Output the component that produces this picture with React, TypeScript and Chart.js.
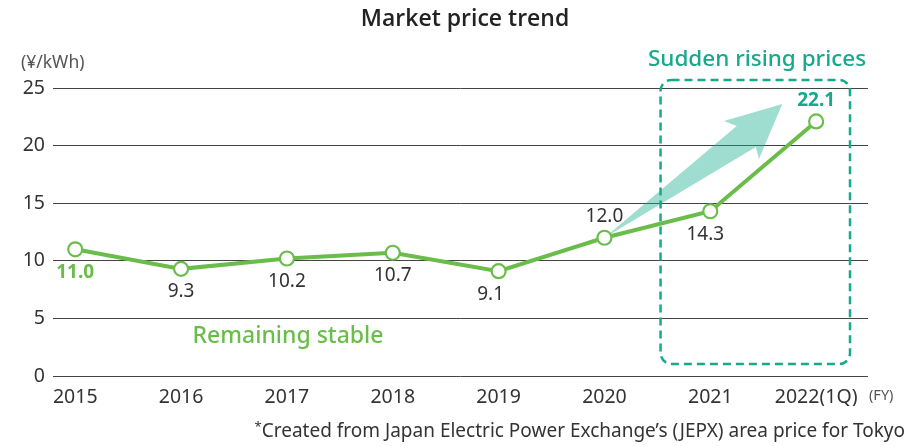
import React, { useEffect, useRef } from 'react';
import { Chart, registerables } from 'chart.js';
Chart.register(...registerables);

const categories = ['2015', '2016', '2017', '2018', '2019', '2020', '2021', '2022(1Q)'];
const prices = [11.0, 9.3, 10.2, 10.7, 9.1, 12.0, 14.3, 22.1];
const yTicks = [0, 5, 10, 15, 20, 25];
const labelBelow = [true, true, true, true, true, false, true, false];

const FONT = '"Noto Sans", "Open Sans", "DejaVu Sans", sans-serif';
const GREEN = '#6abd4a';
const TEAL = '#17a98b';
const TEXT = '#333333';

const annot = {
  id: 'annot',
  beforeDatasetsDraw(chart: any) {
    const { ctx, scales } = chart;
    const x = scales.x, y = scales.y;
    const P = (a: number, b: number) => [x.getPixelForValue(a), y.getPixelForValue(b)];
    ctx.save();
    const pts = [P(5.0, 12.0), P(6.25, 21.7), P(6.13, 22.14), P(6.68, 23.61), P(6.46, 18.84), P(6.43, 19.88)];
    ctx.beginPath();
    ctx.moveTo(pts[0][0], pts[0][1]);
    for (let i = 1; i < pts.length; i++) ctx.lineTo(pts[i][0], pts[i][1]);
    ctx.closePath();
    ctx.fillStyle = 'rgba(26,175,145,0.42)';
    ctx.fill();
    const [bx1, by1] = P(5.53, 25.7);
    const [bx2, by2] = P(7.32, 1.04);
    ctx.beginPath();
    if (ctx.roundRect) ctx.roundRect(bx1, by1, bx2 - bx1, by2 - by1, 11);
    else ctx.rect(bx1, by1, bx2 - bx1, by2 - by1);
    ctx.setLineDash([8, 5]);
    ctx.lineWidth = 2.5;
    ctx.strokeStyle = TEAL;
    ctx.stroke();
    ctx.restore();
  },
  afterDatasetsDraw(chart: any) {
    const { ctx, scales } = chart;
    const x = scales.x, y = scales.y;
    ctx.save();
    ctx.textAlign = 'center';
    ctx.textBaseline = 'middle';
    prices.forEach((v, i) => {
      const px = x.getPixelForValue(i);
      const py = y.getPixelForValue(v) + (labelBelow[i] ? 23 : -21);
      let color = TEXT;
      let weight = 'normal';
      if (i === 0) { color = GREEN; weight = 'bold'; }
      if (i === prices.length - 1) { color = TEAL; weight = 'bold'; }
      ctx.fillStyle = color;
      ctx.font = `${weight} 19px ${FONT}`;
      const dx = i === 4 ? -8 : i === 6 ? -5 : 0;
      ctx.fillText(v.toFixed(1), px + dx, py);
    });
    ctx.fillStyle = '#222';
    ctx.font = `600 23px "Open Sans", ${FONT}`;
    ctx.fillText('Market price trend', 465, 19);
    ctx.fillStyle = TEAL;
    ctx.font = `500 22.5px ${FONT}`;
    ctx.fillText('Sudden rising prices', 757, 60);
    ctx.fillStyle = GREEN;
    ctx.font = `500 23px ${FONT}`;
    ctx.fillText('Remaining stable', 288, 336);
    ctx.fillStyle = '#555';
    ctx.font = `17.5px ${FONT}`;
    ctx.textAlign = 'left';
    ctx.fillText('(¥/kWh)', 21, 63);
    ctx.font = `14.5px ${FONT}`;
    ctx.fillText('(FY)', 869, 396);
    ctx.fillStyle = TEXT;
    ctx.textAlign = 'right';
    ctx.font = `19px ${FONT}`;
    const note = 'Created from Japan Electric Power Exchange’s (JEPX) area price for Tokyo';
    ctx.fillText(note, 905, 432);
    const w = ctx.measureText(note).width;
    ctx.font = `13px ${FONT}`;
    ctx.fillText('*', 905 - w, 427);
    ctx.restore();
  },
};

export default function App() {
  const ref = useRef<HTMLCanvasElement>(null);
  useEffect(() => {
    if (!ref.current) return;
    const chart = new Chart(ref.current, {
      type: 'line',
      data: {
        datasets: [
          {
            data: prices.map((v, i) => ({ x: i, y: v })),
            borderColor: GREEN,
            borderWidth: 4,
            pointRadius: 7,
            pointBorderWidth: 2.2,
            pointBackgroundColor: '#ffffff',
            pointBorderColor: GREEN,
            tension: 0,
          },
        ],
      },
      options: {
        animation: false,
        responsive: false,
        layout: { padding: { left: 8, right: 52, top: 88, bottom: 40 } },
        plugins: { legend: { display: false }, tooltip: { enabled: false }, title: { display: false } },
        scales: {
          x: {
            type: 'linear',
            min: -0.21,
            max: 7.49,
            grid: { display: false },
            border: { display: false },
            afterBuildTicks: (s: any) => { s.ticks = categories.map((_, i) => ({ value: i })); },
            afterFit: (s: any) => { s.height = 30; },
            ticks: {
              autoSkip: false,
              maxRotation: 0,
              padding: 2,
              color: TEXT,
              font: { family: FONT, size: 19.5 },
              callback: (v: any) => categories[v] ?? '',
            },
          },
          y: {
            min: 0,
            max: 25,
            afterBuildTicks: (s: any) => { s.ticks = yTicks.map((v) => ({ value: v })); },
            afterFit: (s: any) => { s.width = 45; },
            grid: { color: '#444', lineWidth: 1, drawTicks: false },
            border: { display: false },
            ticks: {
              padding: 8,
              color: TEXT,
              font: { family: FONT, size: 19.5 },
            },
          },
        },
      },
      plugins: [annot],
    });
    return () => chart.destroy();
  }, []);
  return (
    <div style={{ position: 'fixed', left: 0, top: 0, width: 920, height: 446 }}>
      <canvas ref={ref} width={920} height={446} />
    </div>
  );
}
